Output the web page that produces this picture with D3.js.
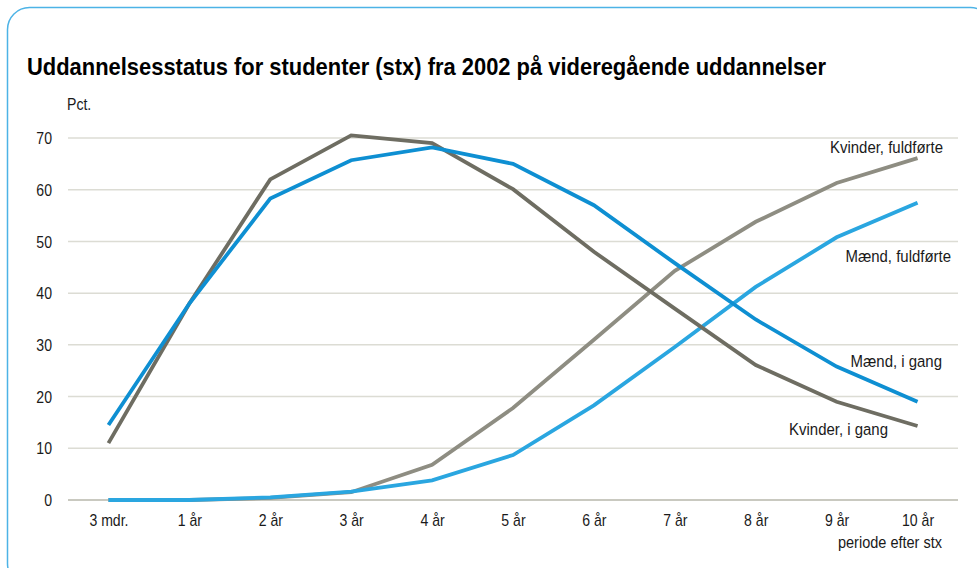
<!DOCTYPE html>
<html>
<head>
<meta charset="utf-8">
<script src="https://cdn.jsdelivr.net/npm/d3@7"></script>
<style>
    body { margin: 0; background: #fff; }
    svg text { font-family: "Liberation Sans Narrow", "Arial Narrow", "Liberation Sans", Arial, sans-serif; fill: #1a1a1a; }
</style>
</head>
<body>
<svg id="chart" width="977" height="568"></svg>
<script>
// data
let periods = ["3 mdr.", "1 år", "2 år", "3 år", "4 år", "5 år", "6 år", "7 år", "8 år", "9 år", "10 år"];
let maendIGang = [14.5, 38, 58.3, 65.7, 68.2, 65, 57, 45.8, 34.9, 25.8, 19];
let kvinderIGang = [11, 38, 62, 70.5, 69, 60.1, 48, 37, 26.1, 19, 14.3];
let kvinderFuldfoerte = [0, 0, 0.4, 1.5, 6.8, 17.8, 31, 44.3, 53.8, 61.3, 66.1];
let maendFuldfoerte = [0, 0, 0.5, 1.6, 3.8, 8.7, 18.3, 29.6, 41.2, 50.8, 57.5];
let yTicks = [0, 10, 20, 30, 40, 50, 60, 70];

let series = [
    {name: "Kvinder, fuldførte", values: kvinderFuldfoerte, color: "#8e8d82", lx: 943, ly: 153},
    {name: "Mænd, fuldførte", values: maendFuldfoerte, color: "#2aa6e0", lx: 951, ly: 262},
    {name: "Kvinder, i gang", values: kvinderIGang, color: "#6e6d62", lx: 888, ly: 435},
    {name: "Mænd, i gang", values: maendIGang, color: "#0e8fd2", lx: 942, ly: 367}
];

// narrow text: squeeze horizontally since no condensed font is installed
let squeeze = 0.88;

let svg = d3.select("#chart");

// frame with rounded corners
svg.append("rect")
    .attr("x", 7.5).attr("y", 7.5)
    .attr("width", 985).attr("height", 578)
    .attr("rx", 22)
    .attr("fill", "none")
    .attr("stroke", "#4db3e6")
    .attr("stroke-width", 1.5);

svg.append("text")
    .attr("x", 27).attr("y", 75)
    .attr("textLength", 799)
    .attr("lengthAdjust", "spacingAndGlyphs")
    .style("font-size", "24px")
    .style("font-weight", "bold")
    .style("fill", "#000")
    .text("Uddannelsesstatus for studenter (stx) fra 2002 på videregående uddannelser");

svg.append("text")
    .attr("transform", "translate(67,110) scale(" + squeeze + ",1)")
    .style("font-size", "16px")
    .text("Pct.");

let left = 68, right = 958;
let x = d3.scalePoint().domain(periods).range([left, right]).padding(0.5);
let y = d3.scaleLinear().domain([0, 70]).range([500, 138]);

// gridlines
svg.append("g").selectAll("line")
    .data(yTicks)
    .enter().append("line")
    .attr("x1", left).attr("x2", right)
    .attr("y1", d => y(d)).attr("y2", d => y(d))
    .attr("stroke", d => d === 0 ? "#c9c9c0" : "#dcdcd4")
    .attr("stroke-width", d => d === 0 ? 2 : 1.5);

let yAxis = d3.axisLeft(y).tickValues(yTicks).tickSize(0).tickPadding(0);
svg.append("g")
    .attr("transform", "translate(52,0)")
    .call(yAxis)
    .call(g => g.select(".domain").remove())
    .selectAll("text")
    .style("font-size", "16px")
    .attr("dy", "0.35em")
    .attr("transform", "scale(" + squeeze + ",1)");

let xAxis = d3.axisBottom(x).tickSize(0).tickPadding(0);
svg.append("g")
    .attr("transform", "translate(0,515)")
    .call(xAxis)
    .call(g => g.select(".domain").remove())
    .selectAll("text")
    .style("font-size", "16px")
    .attr("dy", "0.71em")
    .attr("transform", "scale(" + squeeze + ",1)");

svg.append("text")
    .attr("transform", "translate(942,548) scale(" + squeeze + ",1)")
    .attr("text-anchor", "end")
    .style("font-size", "16.5px")
    .text("periode efter stx");

let line = d3.line()
    .x((d, i) => x(periods[i]))
    .y(d => y(d));

svg.append("g").selectAll("path")
    .data(series)
    .enter().append("path")
    .attr("d", d => line(d.values))
    .attr("fill", "none")
    .attr("stroke", d => d.color)
    .attr("stroke-width", 3.8)
    .attr("stroke-linejoin", "miter");

svg.append("g").selectAll("text")
    .data(series)
    .enter().append("text")
    .attr("transform", d => "translate(" + d.lx + "," + d.ly + ") scale(" + squeeze + ",1)")
    .attr("text-anchor", "end")
    .style("font-size", "17px")
    .text(d => d.name);
</script>
</body>
</html>
